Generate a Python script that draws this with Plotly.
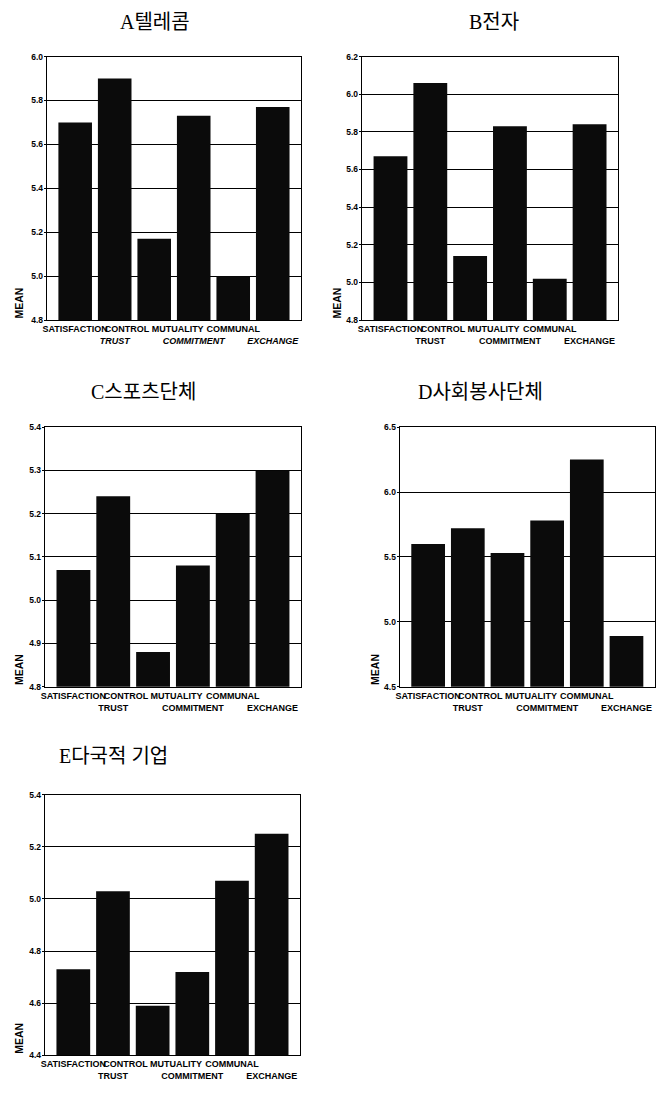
import plotly.graph_objects as go

# ---- data ----
categories = ["SATISFACTION", "TRUST", "CONTROL MUTUALITY", "COMMITMENT", "COMMUNAL", "EXCHANGE"]
titles = ["A텔레콤", "B전자", "C스포츠단체", "D사회봉사단체", "E다국적 기업"]
values_a = [5.70, 5.90, 5.17, 5.73, 5.00, 5.77]
values_b = [5.67, 6.06, 5.14, 5.83, 5.02, 5.84]
values_c = [5.07, 5.24, 4.88, 5.08, 5.20, 5.30]
values_d = [5.60, 5.72, 5.53, 5.78, 6.25, 4.89]
values_e = [4.73, 5.03, 4.59, 4.72, 5.07, 5.25]
y_ranges = [(4.8, 6.0), (4.8, 6.2), (4.8, 5.4), (4.5, 6.5), (4.4, 5.4)]
y_dticks = [0.2, 0.2, 0.1, 0.5, 0.2]
y_label = "MEAN"

series = [values_a, values_b, values_c, values_d, values_e]

# ---- layout (pixels) ----
W, H = 660, 1094
boxes = [(43, 299, 52, 318), (360, 618, 52, 318), (41, 299, 426, 688),
         (398, 655, 426, 688), (41, 298, 797, 1060)]
title_pos = [(152, 17), (493, 17), (140, 391), (479, 391), (110, 758)]
mean_x = [15, 335, 15, 373, 15]

fig = go.Figure()
layout = dict(width=W, height=H, margin=dict(l=0, r=0, t=0, b=0),
              paper_bgcolor="white", plot_bgcolor="white", showlegend=False,
              bargap=0.15)
annotations = []
xpos = list(range(len(categories)))
tickfont = dict(family="Liberation Sans, Arial", size=9, color="black", weight="bold")

for k, (vals, box) in enumerate(zip(series, boxes)):
    i = k + 1
    sx = "" if i == 1 else str(i)
    ox = str(i + 5)
    x0, x1, y0, y1 = box
    fig.add_trace(go.Bar(x=xpos, y=vals, xaxis="x" + sx, yaxis="y" + sx,
                         marker=dict(color="#0b0b0b", line=dict(width=0)),
                         hoverinfo="skip"))
    # carrier for the second row of category labels (draws nothing)
    fig.add_trace(go.Scatter(x=xpos, y=vals, mode="none", xaxis="x" + ox, yaxis="y" + sx,
                             hoverinfo="skip"))
    ital = (k == 0)
    row2 = [("<i>%s</i>" % c if ital else c) for c in categories[1::2]]
    layout["xaxis" + sx] = dict(
        domain=[x0 / W, x1 / W], anchor="y" + sx, range=[-0.72, 5.72],
        tickvals=xpos[0::2], ticktext=categories[0::2], tickangle=0,
        tickfont=tickfont, showgrid=False, zeroline=False,
        showline=True, mirror=True, linecolor="black", linewidth=1, ticks="")
    layout["xaxis" + ox] = dict(
        overlaying="x" + sx, anchor="y" + sx, range=[-0.72, 5.72], side="bottom",
        tickvals=xpos[1::2], ticktext=row2, tickangle=0,
        tickfont=tickfont, showgrid=False, zeroline=False, showline=False,
        ticks="", ticklabelstandoff=14)
    lo, hi = y_ranges[k]
    layout["yaxis" + sx] = dict(
        domain=[1 - y1 / H, 1 - y0 / H], anchor="x" + sx, range=[lo, hi],
        tick0=lo, dtick=y_dticks[k], tickformat=".1f",
        tickfont=dict(family="Liberation Sans, Arial", size=8.5, color="black", weight="bold"),
        showgrid=True, gridcolor="black", gridwidth=1, zeroline=False,
        showline=True, mirror=True, linecolor="black", linewidth=1,
        ticks="outside", ticklen=2, tickcolor="black", ticklabelstandoff=-1)
    tx, ty = title_pos[k]
    annotations.append(dict(text=titles[k], x=tx / W, y=1 - ty / H, xref="paper", yref="paper",
                            xanchor="center", yanchor="middle", showarrow=False,
                            font=dict(family="Liberation Serif, Noto Sans CJK KR", size=20, color="black")))
    annotations.append(dict(text=y_label, x=mean_x[k] / W, y=1 - y1 / H, xref="paper", yref="paper",
                            xanchor="center", yanchor="bottom", textangle=-90, showarrow=False,
                            font=dict(family="Liberation Sans, Arial", size=10.5, color="black", weight="bold")))

layout["annotations"] = annotations
fig.update_layout(**layout)
fig.write_html("out.html", config={"displayModeBar": False},
               post_script="document.body.style.margin='0';")
